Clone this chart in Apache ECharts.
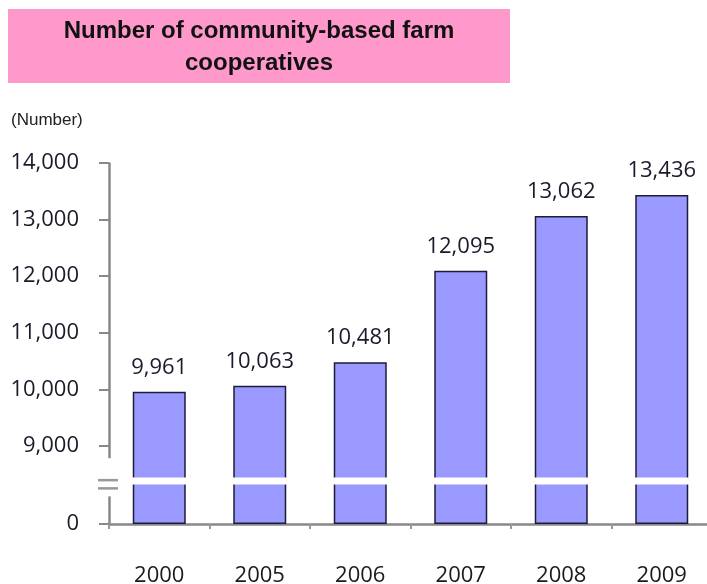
<!DOCTYPE html>
<html><head><meta charset="utf-8">
<script src="https://cdn.jsdelivr.net/npm/echarts@6/dist/echarts.min.js"></script>
<style>html,body{margin:0;padding:0;background:#fff}#c{width:707px;height:584px}</style>
</head><body><div id="c"></div>
<script>
const years = ['2000', '2005', '2006', '2007', '2008', '2009'];
const counts = [9961, 10063, 10481, 12095, 13062, 13436];
const yTicks = [0, 9000, 10000, 11000, 12000, 13000, 14000];
const titleText = 'Number of community-based farm\ncooperatives';
const unitText = '(Number)';
const axisBreak = { start: 700, end: 8450 };

const numFont = '"Open Sans", "Noto Sans", sans-serif';
const chart = echarts.init(document.getElementById('c'), null, { renderer: 'canvas' });
chart.setOption({
  animation: false,
  grid: { left: 109, top: 163, width: 603, height: 361, containLabel: false, outerBoundsMode: 'none' },
  xAxis: {
    type: 'category', data: years,
    axisLine: { lineStyle: { color: '#888', width: 2.5 } },
    axisTick: { show: true, length: 5, lineStyle: { color: '#999', width: 2 } },
    axisLabel: { margin: 41, fontFamily: numFont, fontSize: 22, color: '#1a1a1a' }
  },
  yAxis: {
    type: 'value', min: 0, max: 14000, interval: 1000,
    breaks: [{ start: axisBreak.start, end: axisBreak.end, gap: '2%' }],
    breakArea: { show: true, zigzagAmplitude: 0, itemStyle: { color: '#fff', borderColor: '#fff', borderWidth: 0, opacity: 1 } },
    splitLine: { show: false },
    axisLine: { show: true, lineStyle: { color: '#888', width: 2.5 } },
    axisTick: { show: true, length: 10, customValues: yTicks, lineStyle: { color: '#888', width: 2 } },
    axisLabel: { margin: 30, customValues: yTicks, fontFamily: numFont, fontSize: 22, color: '#1a1a2a',
      formatter: v => Number(v).toLocaleString('en-US') }
  },
  series: [{
    type: 'bar', data: counts, barWidth: 53,
    itemStyle: { color: '#9999FF', borderColor: '#1c1c3a', borderWidth: 1.5 },
    label: { show: true, position: 'top', distance: 13, fontFamily: numFont, fontSize: 22, color: '#1a1a2a',
      formatter: p => p.value.toLocaleString('en-US') }
  }]
});

// "=" break marks on the y axis, placed through the axis scale
const yTop = chart.convertToPixel({ yAxisIndex: 0 }, axisBreak.end);
const yBot = chart.convertToPixel({ yAxisIndex: 0 }, axisBreak.start);
chart.setOption({
  graphic: [
    { id: 'tbox', type: 'rect', shape: { x: 8, y: 9, width: 502, height: 74 }, style: { fill: '#FF99CC' }, z: 0 },
    { id: 'ttext', type: 'text', x: 259, y: 47, style: { text: titleText, align: 'center', verticalAlign: 'middle', font: 'bold 24px "Liberation Sans", Arial, sans-serif', lineHeight: 32, fill: '#111' }, z: 1 },
    { id: 'unit', type: 'text', x: 11, y: 120, style: { text: unitText, align: 'left', verticalAlign: 'middle', font: '17px "Liberation Sans Narrow", "Liberation Sans", Arial, sans-serif', fill: '#222' } },
    { id: 'gapw', type: 'rect', shape: { x: 104, y: yTop - 19, width: 10, height: yBot - yTop + 31 }, style: { fill: '#fff' }, z: 300 },
    { id: 'b1', type: 'line', shape: { x1: 98, y1: yTop + 3, x2: 118, y2: yTop + 3 }, style: { stroke: '#999', lineWidth: 2.5 }, z: 310 },
    { id: 'b2', type: 'line', shape: { x1: 98, y1: yBot + 4, x2: 118, y2: yBot + 4 }, style: { stroke: '#999', lineWidth: 2.5 }, z: 310 }
  ]
});
</script></body></html>
